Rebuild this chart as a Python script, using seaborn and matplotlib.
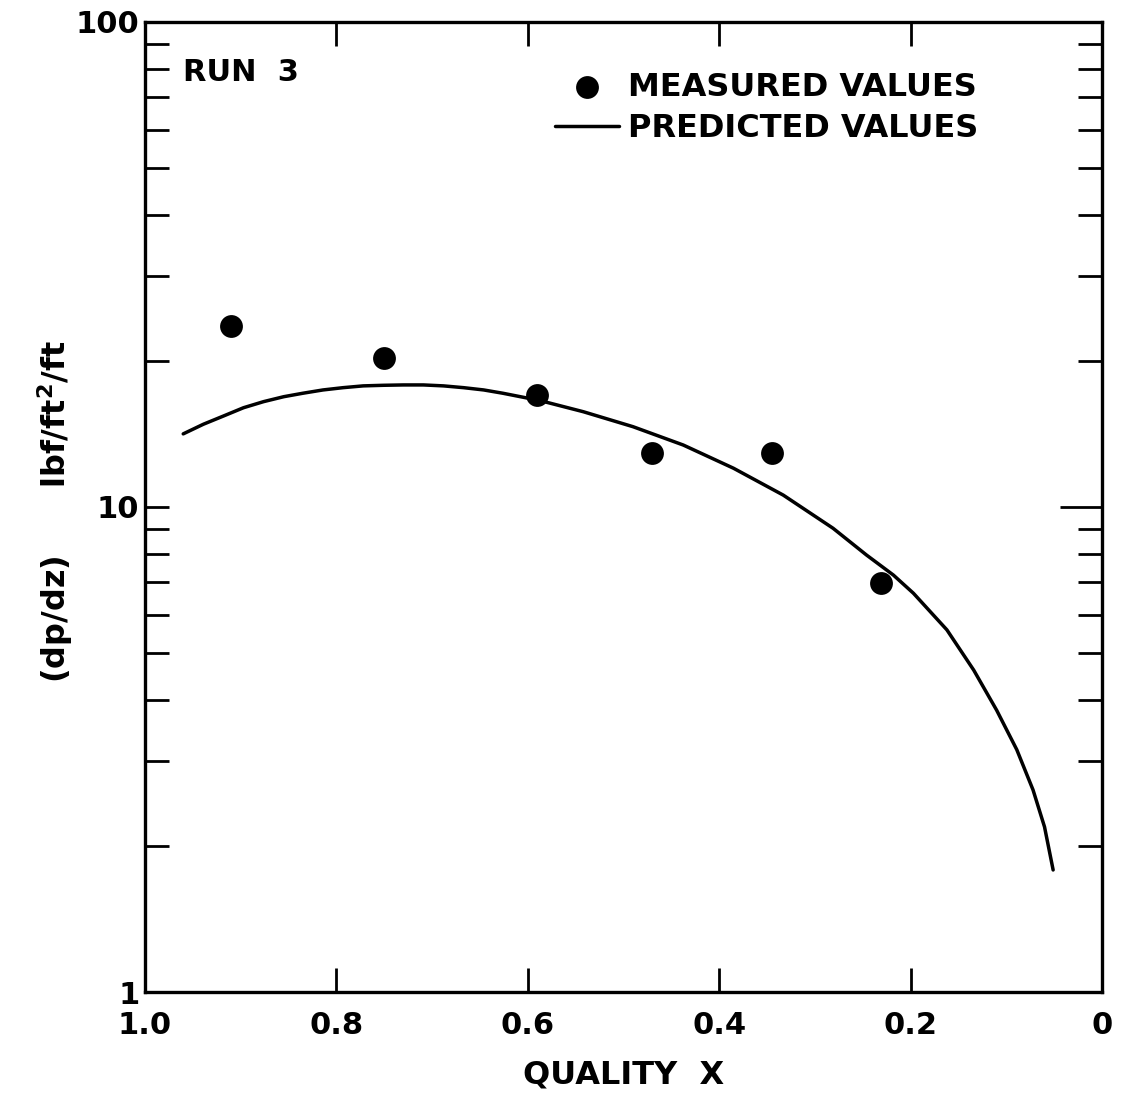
import numpy as np
import pandas as pd
import seaborn as sns
import matplotlib
matplotlib.use("Agg")
import matplotlib.pyplot as plt
from matplotlib.ticker import FixedLocator, LogLocator, NullFormatter, FixedFormatter

# Measured pressure gradient vs. quality
measured_x = [0.910, 0.750, 0.590, 0.470, 0.345, 0.231]
measured_y = [23.6, 20.3, 17.0, 12.9, 12.9, 6.97]

# Predicted pressure gradient curve
predicted_x = [0.960, 0.939, 0.918, 0.897, 0.876, 0.855, 0.835, 0.814, 0.793,
               0.772, 0.751, 0.730, 0.709, 0.688, 0.667, 0.646, 0.626, 0.587,
               0.542, 0.490, 0.4375, 0.385, 0.333, 0.281, 0.246, 0.218, 0.197,
               0.162, 0.134, 0.110, 0.089, 0.072, 0.060, 0.051]
predicted_y = [14.15, 14.81, 15.40, 16.02, 16.49, 16.88, 17.16, 17.43, 17.62,
               17.77, 17.82, 17.85, 17.85, 17.77, 17.62, 17.43, 17.16, 16.57,
               15.72, 14.64, 13.42, 12.02, 10.58, 9.04, 7.96, 7.24, 6.64,
               5.58, 4.61, 3.81, 3.16, 2.61, 2.19, 1.785]

x_ticks = [1.0, 0.8, 0.6, 0.4, 0.2, 0.0]
x_tick_labels = ["1.0", "0.8", "0.6", "0.4", "0.2", "0"]
y_ticks = [1, 10, 100]
y_tick_labels = ["1", "10", "100"]

sns.set_style("ticks")
plt.rcParams["font.family"] = ["DejaVu Sans"]
plt.rcParams["font.weight"] = "bold"
for key in ["text.color", "axes.labelcolor", "xtick.color", "ytick.color",
            "axes.edgecolor"]:
    plt.rcParams[key] = "black"

fig = plt.figure(figsize=(11.21, 10.93), dpi=100)
ax = fig.add_axes([0.1293, 0.0924, 0.8537, 0.8875])

meas = pd.DataFrame({"x": measured_x, "y": measured_y})
pred = pd.DataFrame({"x": predicted_x, "y": predicted_y})

sns.lineplot(data=pred, x="x", y="y", ax=ax, color="black", linewidth=2.5,
             sort=False, label="PREDICTED VALUES")
sns.scatterplot(data=meas, x="x", y="y", ax=ax, color="black", s=270,
                edgecolor="black", linewidth=0, label="MEASURED VALUES", zorder=3)

ax.set_yscale("log")
ax.set_xlim(1.0, 0.0)
ax.set_ylim(1, 100)

for sp in ax.spines.values():
    sp.set_linewidth(2.4)
    sp.set_color("black")
    sp.set_visible(True)

ax.xaxis.set_major_locator(FixedLocator(x_ticks))
ax.xaxis.set_major_formatter(FixedFormatter(x_tick_labels))
ax.yaxis.set_major_locator(FixedLocator(y_ticks))
ax.yaxis.set_major_formatter(FixedFormatter(y_tick_labels))
ax.yaxis.set_minor_locator(LogLocator(base=10, subs=np.arange(2, 10)))
ax.yaxis.set_minor_formatter(NullFormatter())

ax.tick_params(axis="x", which="major", direction="in", top=True, bottom=True,
               length=17, width=2.0, labelsize=22, pad=14)
ax.tick_params(axis="y", which="major", direction="in", left=True, right=False,
               length=17, width=2.0, labelsize=22, pad=4)
ax.tick_params(axis="y", which="minor", direction="in", left=True, right=False,
               length=17, width=2.0)

# Right-hand scale: longer tick at the decade line
ax_r = ax.twinx()
ax_r.set_yscale("log")
ax_r.set_ylim(1, 100)
ax_r.yaxis.set_major_locator(FixedLocator(y_ticks))
ax_r.yaxis.set_minor_locator(LogLocator(base=10, subs=np.arange(2, 10)))
ax_r.yaxis.set_major_formatter(NullFormatter())
ax_r.yaxis.set_minor_formatter(NullFormatter())
ax_r.tick_params(axis="y", which="major", direction="in", right=True,
                 length=30, width=2.0)
ax_r.tick_params(axis="y", which="minor", direction="in", right=True,
                 length=17, width=2.0)
for sp in ax_r.spines.values():
    sp.set_visible(False)

ax.set_xlabel("QUALITY  X", fontsize=23, fontweight="bold", labelpad=14)
ax.set_ylabel("(dp/dz)      lbf/ft$^{\\mathbf{2}}$/ft", fontsize=23,
              fontweight="bold")
ax.yaxis.set_label_coords(-0.073, 0.495)

ax.text(0.04, 0.948, "RUN  3", transform=ax.transAxes, fontsize=22,
        fontweight="bold", va="center", ha="left")

handles, labels = ax.get_legend_handles_labels()
order = [labels.index("MEASURED VALUES"), labels.index("PREDICTED VALUES")]
leg = ax.legend([handles[i] for i in order], [labels[i] for i in order],
                loc="upper left", bbox_to_anchor=(0.415, 0.962), frameon=False,
                fontsize=23, handlelength=2.0, handletextpad=0.3,
                labelspacing=0.32, borderaxespad=0.0)
for t in leg.get_texts():
    t.set_fontweight("bold")

fig.savefig("out.png", dpi=100, facecolor="white")
